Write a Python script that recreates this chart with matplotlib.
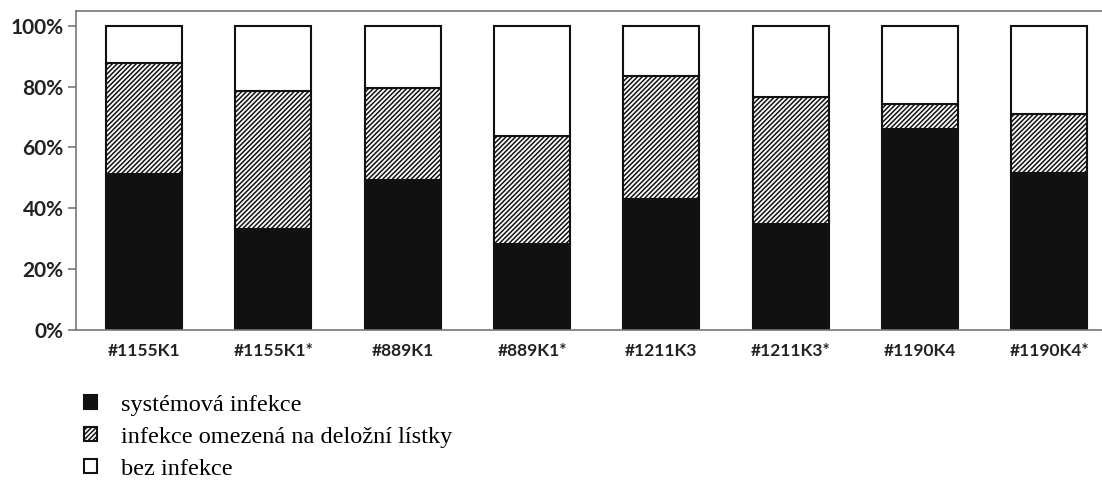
import numpy as np
import matplotlib.pyplot as plt
from matplotlib.ticker import PercentFormatter

kategorie = ['#1155K1', '#1155K1*', '#889K1', '#889K1*', '#1211K3', '#1211K3*', '#1190K4', '#1190K4*']
systemova = [51.3, 33.3, 49.3, 28.2, 43.0, 34.7, 66.0, 51.5]
deloha = [36.3, 45.3, 30.1, 35.6, 40.5, 41.8, 8.2, 19.5]
bez = [100 - a - b for a, b in zip(systemova, deloha)]
popisky = ['systémová infekce', 'infekce omezená na deložní lístky', 'bez infekce']

plt.rcParams['hatch.linewidth'] = 1.1

fig = plt.figure(figsize=(11.02, 5.01), dpi=100)
ax = fig.add_axes([0.069, 0.341, 0.945, 0.637])

x = np.arange(len(kategorie))
w = 0.587
spodek2 = np.array(systemova)
spodek3 = spodek2 + np.array(deloha)
b1 = ax.bar(x, systemova, w, color='#111111', edgecolor='#111111', linewidth=1.5)
b2 = ax.bar(x, deloha, w, bottom=spodek2, color='white', edgecolor='#111111',
            hatch='/' * 7, linewidth=1.5)
b3 = ax.bar(x, bez, w, bottom=spodek3, color='white', edgecolor='#111111', linewidth=1.5)

ax.set_xlim(-0.526, 7.526)
ax.set_ylim(0, 104.8)
ax.set_yticks([0, 20, 40, 60, 80, 100])
ax.yaxis.set_major_formatter(PercentFormatter(decimals=0))
ax.set_xticks(x)
ax.set_xticklabels(kategorie)
for s in ['left', 'bottom', 'top', 'right']:
    ax.spines[s].set_color('#777777')
    ax.spines[s].set_linewidth(1.2)
ax.tick_params(axis='y', length=6, width=1.2, color='#777777', pad=3)
ax.tick_params(axis='x', length=0, pad=9)
for t in ax.get_xticklabels() + ax.get_yticklabels():
    t.set_fontfamily('Lato')
    t.set_fontweight('bold')
    t.set_fontsize(12.5)
    t.set_color('#222222')
for t in ax.get_yticklabels():
    t.set_fontsize(15)

fig.legend([b1, b2, b3], popisky, loc='upper left', bbox_to_anchor=(0.0605, 0.246),
           frameon=False, prop={'family': 'Liberation Serif', 'size': 17.5},
           handlelength=0.55, handleheight=0.55, labelspacing=0.45, handletextpad=1.0,
           borderpad=0.2)

fig.savefig('out.png', dpi=100)
